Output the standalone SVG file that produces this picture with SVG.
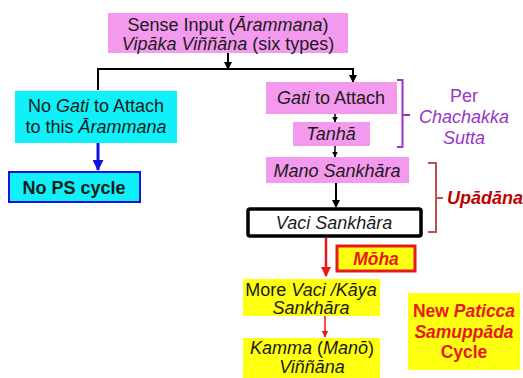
<svg xmlns="http://www.w3.org/2000/svg" width="523" height="378" viewBox="0 0 523 378">
<defs>
<marker id="ab" markerWidth="8" markerHeight="8" refX="7" refY="4" orient="auto" markerUnits="userSpaceOnUse"><path d="M0,0 L8,4 L0,8 z" fill="#000"/></marker>
<marker id="abs" markerWidth="6" markerHeight="6" refX="5.5" refY="3" orient="auto" markerUnits="userSpaceOnUse"><path d="M0,0 L6,3 L0,6 z" fill="#000"/></marker>
<marker id="ar" markerWidth="10" markerHeight="10" refX="9" refY="5" orient="auto" markerUnits="userSpaceOnUse"><path d="M0,0 L10,5 L0,10 z" fill="#E81818"/></marker>
<marker id="ars" markerWidth="7" markerHeight="7" refX="6.5" refY="3.5" orient="auto" markerUnits="userSpaceOnUse"><path d="M0,0 L7,3.5 L0,7 z" fill="#E81818"/></marker>
<marker id="abl" markerWidth="11" markerHeight="11" refX="10" refY="5.5" orient="auto" markerUnits="userSpaceOnUse"><path d="M0,0 L11,5.5 L0,11 z" fill="#1010E0"/></marker>
</defs>
<style>
text{font-family:"Liberation Sans",Arial,sans-serif;font-size:18px;fill:#1a1a1a;text-anchor:middle}
.i{font-style:italic}
.b{font-weight:bold}
.pink{fill:#F49AEE}
.cyan{fill:#10F0F8}
.yel{fill:#FFFF10}
.pur{fill:#9A33CC}
.dr{fill:#C00000}
.rd{fill:#E81818}
</style>
<g id="connectors" fill="none">
<path d="M228,53 V69" stroke="#000" stroke-width="2" marker-end="url(#ab)"/>
<path d="M98,90 V69 H353 V82" stroke="#000" stroke-width="2" marker-end="url(#ab)"/>
<path d="M335,114 V122" stroke="#000" stroke-width="1.5" marker-end="url(#abs)"/>
<path d="M335,146 V157" stroke="#000" stroke-width="1.5" marker-end="url(#abs)"/>
<path d="M336,183 V207" stroke="#000" stroke-width="2" marker-end="url(#ab)"/>
<path d="M98,143 V170" stroke="#1010E0" stroke-width="3" marker-end="url(#abl)"/>
<path d="M326,238 V276" stroke="#E81818" stroke-width="2.5" marker-end="url(#ar)"/>
<path d="M325,316 V337" stroke="#E81818" stroke-width="1.5" marker-end="url(#ars)"/>
<path d="M397,80 H402.5 V147 H397 M402.5,115 H410" stroke="#9A33CC" stroke-width="2"/>
<path d="M428,163 H436 V232 H428 M436,198 H443" stroke="#C0504D" stroke-width="2"/>
</g>
<g id="sense">
<rect class="pink" x="108" y="13" width="240" height="40"/>
<text x="228" y="31">Sense Input (<tspan class="i">Ārammana</tspan>)</text>
<text x="228" y="50"><tspan class="i">Vipāka Viññāna</tspan> (six types)</text>
</g>
<g id="nogati">
<rect class="cyan" x="15" y="91" width="162" height="52"/>
<text x="96" y="112"><tspan>No </tspan><tspan class="i">Gati</tspan><tspan> to Attach</tspan></text>
<text x="96" y="133">to this <tspan class="i">Ārammana</tspan></text>
</g>
<g id="nops">
<rect class="cyan" x="9" y="172" width="131" height="30" stroke="#1010E0" stroke-width="2"/>
<text class="b" x="74" y="194">No PS cycle</text>
</g>
<g id="gati">
<rect class="pink" x="266" y="82" width="131" height="32"/>
<text x="331" y="104"><tspan class="i">Gati</tspan> to Attach</text>
</g>
<g id="tanha">
<rect class="pink" x="293" y="122" width="77" height="24"/>
<text class="i" x="331" y="140">Tanhā</text>
</g>
<g id="mano">
<rect class="pink" x="266" y="157" width="143" height="26"/>
<text class="i" x="337" y="177">Mano Sankhāra</text>
</g>
<g id="vaci">
<rect x="248" y="209" width="173" height="27" fill="#fff" stroke="#000" stroke-width="3.5" rx="2"/>
<text class="i" x="334" y="229">Vaci Sankhāra</text>
</g>
<g id="moha">
<rect class="yel" x="337" y="246" width="78" height="25" stroke="#E81818" stroke-width="3"/>
<text class="i b rd" x="376" y="265" style="font-size:17.5px">Mōha</text>
</g>
<g id="more">
<rect class="yel" x="243" y="279" width="137" height="37"/>
<text x="311" y="296">More <tspan class="i">Vaci /Kāya</tspan></text>
<text class="i" x="311" y="314">Sankhāra</text>
</g>
<g id="kamma">
<rect class="yel" x="243" y="338" width="137" height="40"/>
<text x="312" y="354"><tspan class="i">Kamma</tspan> (<tspan class="i">Manō</tspan>)</text>
<text class="i" x="312" y="373">Viññāna</text>
</g>
<g id="newps">
<rect class="yel" x="408" y="293" width="112" height="77"/>
<text class="b rd" x="464" y="317" style="font-size:17.5px">New <tspan class="i">Paticca</tspan></text>
<text class="b i rd" x="464" y="338" style="font-size:17.5px">Samuppāda</text>
<text class="b rd" x="464" y="358" style="font-size:17.5px">Cycle</text>
</g>
<g id="perchachakka">
<text class="pur" x="464" y="102">Per</text>
<text class="i pur" x="464" y="123">Chachakka</text>
<text class="i pur" x="464" y="144">Sutta</text>
</g>
<g id="upadana">
<text class="b i dr" x="447" y="204" style="text-anchor:start">Upādāna</text>
</g>
</svg>
